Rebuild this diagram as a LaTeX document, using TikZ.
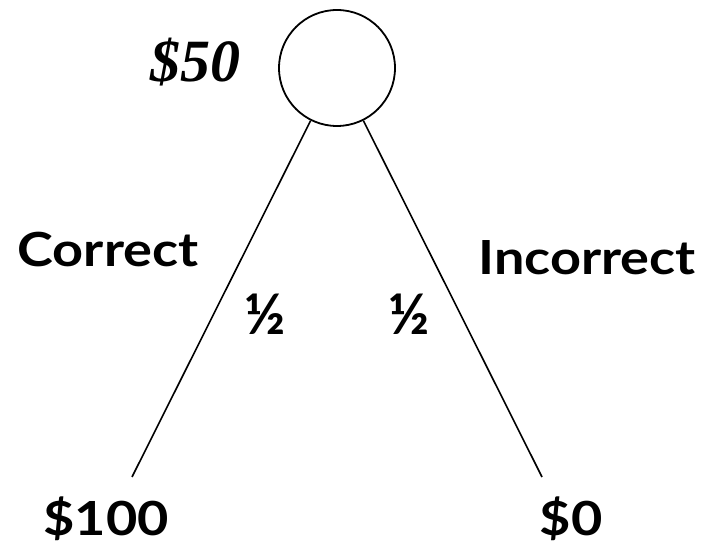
\documentclass[tikz,border=0pt]{standalone}
\usepackage{fontspec}
\setmainfont{Lato}
\newfontfamily\wordfont[FakeStretch=1.15]{Lato}
\newfontfamily\valuefont{Liberation Serif}
\usepackage{tikz}
\usetikzlibrary{positioning}

\begin{document}
\begin{tikzpicture}[
        x=1pt, y=1pt,
        every node/.style={inner sep=0pt},
        chance/.style={
            draw,
            circle,
            line width=1.8pt,
            minimum size=116pt
        },
        choice/.style={anchor=base, font=\wordfont\bfseries\fontsize{47}{50}\selectfont},
        payoff/.style={anchor=base, font=\wordfont\bfseries\fontsize{47}{50}\selectfont},
        prob/.style={anchor=base, font=\bfseries\fontsize{56}{60}\selectfont},
        branch/.style={line width=1.6pt}
    ]
        \useasboundingbox (0,0) rectangle (709,546);

        \node[chance] (root) at (337,478) {};
        \node[anchor=base, font=\valuefont\bfseries\itshape\fontsize{60}{64}\selectfont] (value) at (195,464) {\$50};

        \coordinate (leaf_correct) at (132,69);
        \coordinate (leaf_incorrect) at (542,69);

        % Branches
        \draw[branch] (root) -- (leaf_correct);
        \draw[branch] (root) -- (leaf_incorrect);

        % Branch labels
        \node[choice] (correct) at (108,279) {Correct};
        \node[choice] (incorrect) at (587,271) {Incorrect};
        \node[prob] (p_correct) at (265,211) {½};
        \node[prob] (p_incorrect) at (409,211) {½};

        % Payoffs
        \node[payoff] (win) at (106,11) {\$100};
        \node[payoff] (lose) at (571,11) {\$0};

    \end{tikzpicture}
\end{document}
